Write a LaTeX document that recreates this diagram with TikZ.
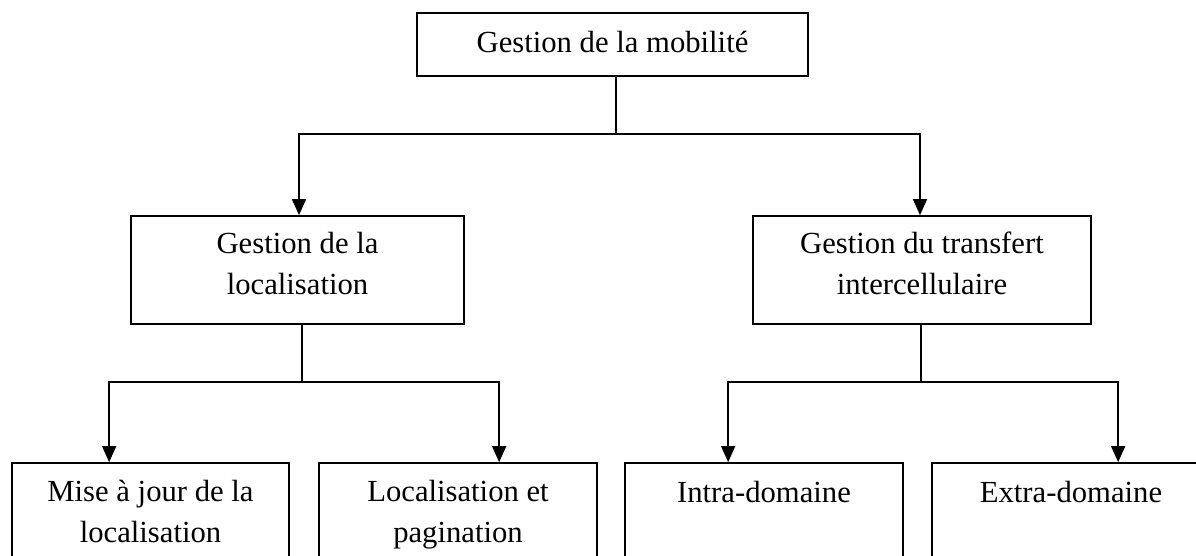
\documentclass[tikz,border=0pt]{standalone}
\usepackage{fontspec}
\setmainfont{Liberation Serif}
\usetikzlibrary{arrows.meta,calc}

\begin{document}
\begin{tikzpicture}[x=0.75pt,y=-0.75pt,
  line width=1.3pt,
  boxnode/.style={draw, inner sep=0pt, minimum height=#1*0.75pt},
  labelnode/.style={anchor=base, align=center, inner sep=0pt,
    font=\fontsize{23}{30.4}\selectfont},
  wire/.style={line width=1.2pt},
  arr/.style={line width=1.2pt, -{Triangle[length=12pt,width=10.5pt]}}]

\path[use as bounding box, clip] (0,0) rectangle (1196,556);

% boxes (bottom row runs past the lower and right page edges)
\node[boxnode=63,  minimum width=391*0.75pt] (top)  at (612.5,44.5) {};
\node[boxnode=108, minimum width=333*0.75pt] (midL) at (297.5,270) {};
\node[boxnode=108, minimum width=338*0.75pt] (midR) at (922,270) {};
\node[boxnode=160, minimum width=277*0.75pt] (b1) at (150.5,543) {};
\node[boxnode=160, minimum width=278*0.75pt] (b2) at (458,543) {};
\node[boxnode=160, minimum width=278*0.75pt] (b3) at (764,543) {};
\node[boxnode=160, minimum width=278*0.75pt] (b4) at (1071,543) {};

% labels: the base anchor sits on the baseline of the last line
\node[labelnode] (ttop)  at (612.5,53) {Gestion de la mobilité};
\node[labelnode] (tmidL) at (297.5,294) {Gestion de la\\localisation};
\node[labelnode] (tmidR) at (922,294) {Gestion du transfert\\intercellulaire};
\node[labelnode] (tb1) at (150.5,542) {Mise à jour de la\\localisation};
\node[labelnode] (tb2) at (458,542) {Localisation et\\pagination};
\node[labelnode] (tb3) at (764,502) {Intra-domaine};
\node[labelnode] (tb4) at (1071,502) {Extra-domaine};

% junction points
\coordinate (j0) at (616,134);
\coordinate (jL) at (302,382);
\coordinate (jR) at (921,382);

% connectors
\draw[wire] (top.south -| j0) -- (j0);
\draw[arr] (j0) -| ($(midL.north)+(1.5,0)$);
\draw[arr] (j0) -| ($(midR.north)+(-2,0)$);

\draw[wire] (midL.south -| jL) -- (jL);
\draw[arr] (jL) -| ($(b1.north west)+(98,0)$);
\draw[arr] (jL) -| ($(b2.north west)+(181,0)$);

\draw[wire] (midR.south -| jR) -- (jR);
\draw[arr] (jR) -| ($(b3.north west)+(104,0)$);
\draw[arr] (jR) -| ($(b4.north west)+(187,0)$);
\end{tikzpicture}
\end{document}
